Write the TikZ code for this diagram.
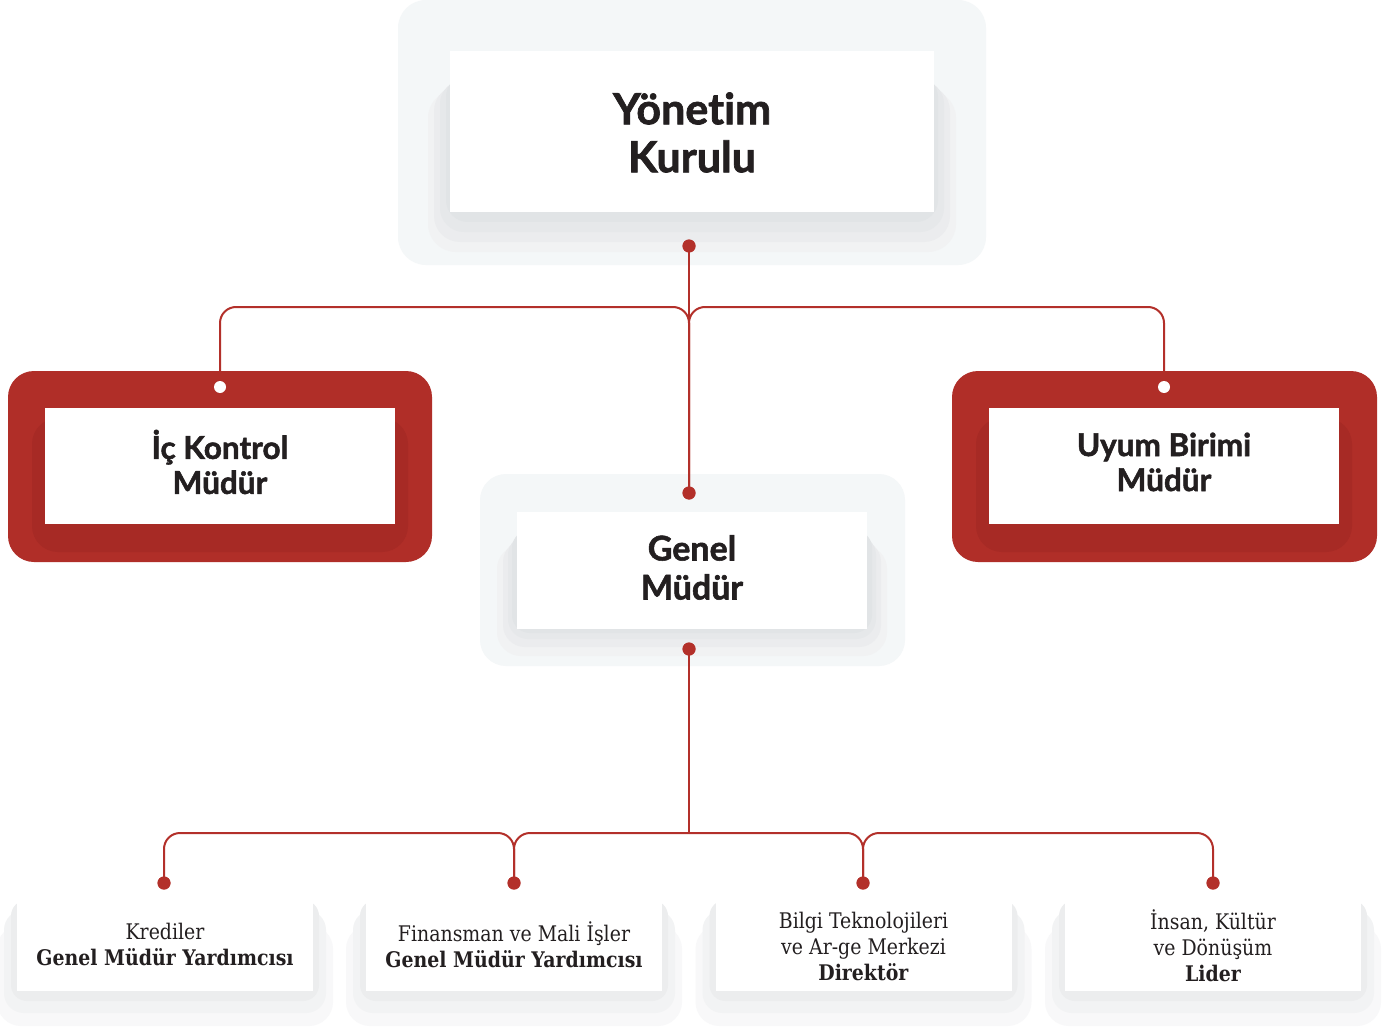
\documentclass[tikz,border=0pt]{standalone}
\usepackage{fontspec}
\newfontfamily\headfont{Lato}[BoldFeatures={FakeBold=1.6}, Ligatures=CommonOff]
\newfontfamily\slabfont[FakeStretch=0.88]{DejaVu Serif}
\definecolor{pale}{HTML}{F4F7F8}
\definecolor{redbox}{HTML}{B02E28}
\definecolor{redin}{HTML}{A72A25}
\definecolor{linered}{HTML}{B3302A}
\definecolor{txt}{HTML}{231F20}
\definecolor{sh1}{HTML}{E1E4E6}
\definecolor{sh2}{HTML}{E6E8EA}
\definecolor{sh3}{HTML}{EBECEE}
\definecolor{sh4}{HTML}{F1F2F3}
\definecolor{bs1}{HTML}{ECEDEE}
\definecolor{bs2}{HTML}{F2F3F4}
\definecolor{bs3}{HTML}{F8F8F9}
\begin{document}
\begin{tikzpicture}[x=1pt,y=-1pt,
  whitebox/.style={fill=white, inner sep=0pt, align=center, text=txt},
  plain/.style={inner sep=0pt, align=center, text=txt},
  headtext/.style={font=\headfont\bfseries\fontsize{43}{48}\selectfont},
  midtext/.style={font=\headfont\bfseries\fontsize{31.5}{35}\selectfont},
  slabtext/.style={font=\slabfont\fontsize{21.5}{26}\selectfont},
  conn/.style={draw=linered, line width=2pt},
  rc/.style={rounded corners=16pt},
  dot/.style={circle, fill=linered, inner sep=0pt, minimum size=13pt},
  wdot/.style={circle, fill=white, inner sep=0pt, minimum size=12pt}]
\useasboundingbox (0,0) rectangle (1397,1027);
\fill[white] (0,0) rectangle (1397,1027);

% --- Yonetim Kurulu
\fill[pale, rounded corners=28pt] (398,0) rectangle (986,265);
\fill[sh4, rounded corners=28pt] (428,90) rectangle (956,252);
\fill[sh3, rounded corners=26pt] (434,85) rectangle (950,242);
\fill[sh2, rounded corners=24pt] (440,80) rectangle (944,232);
\fill[sh1, rounded corners=22pt] (446,75) rectangle (938,222);
\node[whitebox, minimum width=484pt, minimum height=161pt] (yk) at (692,131.5) {};
\node[plain, headtext] (ykt) at ([yshift=-1pt]yk.center) {Yönetim\\Kurulu};

% --- Ic Kontrol
\fill[redbox, rounded corners=26pt] (8,371) rectangle (432,562);
\fill[redin, rounded corners=26pt] (32,418) rectangle (408,552);
\node[whitebox, minimum width=350pt, minimum height=116pt] (ick) at (220,466) {};
\node[plain, midtext] (ickt) at ([yshift=4pt]ick.center) {İç Kontrol\\Müdür};

% --- Uyum Birimi
\fill[redbox, rounded corners=26pt] (952,371) rectangle (1377,562);
\fill[redin, rounded corners=26pt] (976,418) rectangle (1352,552);
\node[whitebox, minimum width=350pt, minimum height=116pt] (ubm) at (1164,466) {};
\node[plain, midtext] (ubmt) at ([yshift=4pt]ubm.center) {Uyum Birimi\\Müdür};

% --- Genel Mudur
\fill[pale, rounded corners=26pt] (480,474) rectangle (905,666);
\fill[sh4, rounded corners=24pt] (497,545) rectangle (887,656);
\fill[sh3, rounded corners=22pt] (503,540) rectangle (881,647);
\fill[sh2, rounded corners=20pt] (508,535) rectangle (876,639);
\fill[sh1, rounded corners=18pt] (512,530) rectangle (872,633);
\node[whitebox, minimum width=350pt, minimum height=117pt] (gm) at (692,570.5) {};
\node[plain, font=\headfont\bfseries\fontsize{34}{39}\selectfont] (gmt) at ([yshift=3pt]gm.center) {Genel\\Müdür};

% --- bottom boxes shadows
\foreach \c in {165,514,863.5,1213}{
  \fill[bs3, rounded corners=24pt] (\c-168,925) rectangle (\c+168,1026);
  \fill[bs2, rounded corners=20pt] (\c-161,910) rectangle (\c+161,1013);
  \fill[bs1, rounded corners=16pt] (\c-154,900) rectangle (\c+154,1001);
}
\node[whitebox, slabtext, minimum width=296pt, minimum height=93pt] (k1) at (165,944.5) {Krediler\\\textbf{Genel Müdür Yardımcısı}};
\node[whitebox, slabtext, minimum width=296pt, minimum height=93pt] (k2) at (514,944.5) {Finansman ve Mali İşler\\\textbf{Genel Müdür Yardımcısı}};
\node[whitebox, minimum width=296pt, minimum height=93pt] (k3) at (863.5,944.5) {};
\node[plain, slabtext] (k3t) at ([yshift=-2pt]k3.center) {Bilgi Teknolojileri\\ve Ar-ge Merkezi\\\textbf{Direktör}};
\node[whitebox, minimum width=296pt, minimum height=93pt] (k4) at (1213,944.5) {};
\node[plain, slabtext] (k4t) at ([yshift=-1pt]k4.center) {İnsan, Kültür\\ve Dönüşüm\\\textbf{Lider}};

% --- dots
\node[dot] (d0) at (689,246) {};
\node[dot] (g1) at (689,493) {};
\node[wdot] (ic) at (220,387) {};
\node[wdot] (ub) at (1164,387) {};
\node[dot] (g2) at (689,649) {};
\node[dot] (b1) at (164,883) {};
\node[dot] (b2) at (514,883) {};
\node[dot] (b3) at (863,883) {};
\node[dot] (b4) at (1213,883) {};
\coordinate (j1) at (689,307);
\coordinate (j2) at (689,833);

% --- connectors
\draw[conn] (d0.center) -- (g1.center);
\draw[conn, rc] (ic.center) |- (j1) -- (g1.center);
\draw[conn, rc] (ub.center) |- (j1) -- (g1.center);
\draw[conn] (g2.center) -- (j2);
\draw[conn, rc] (b1.center) |- (b2.center |- j2) -- (b2.center);
\draw[conn, rc] (j2) -| (b2.center);
\draw[conn, rc] (j2) -| (b3.center);
\draw[conn, rc] (b4.center) |- (b3.center |- j2) -- (b3.center);
% connector part over the red boxes is hidden by the box colour
\fill[redbox] (210,371) rectangle (230,395);
\fill[redbox] (1154,371) rectangle (1174,395);
% dots on top
\foreach \n in {d0,g1,g2,b1,b2,b3,b4}{\fill[linered] (\n) circle (6.5pt);}
\foreach \n in {ic,ub}{\fill[white] (\n) circle (6pt);}
\end{tikzpicture}
\end{document}
